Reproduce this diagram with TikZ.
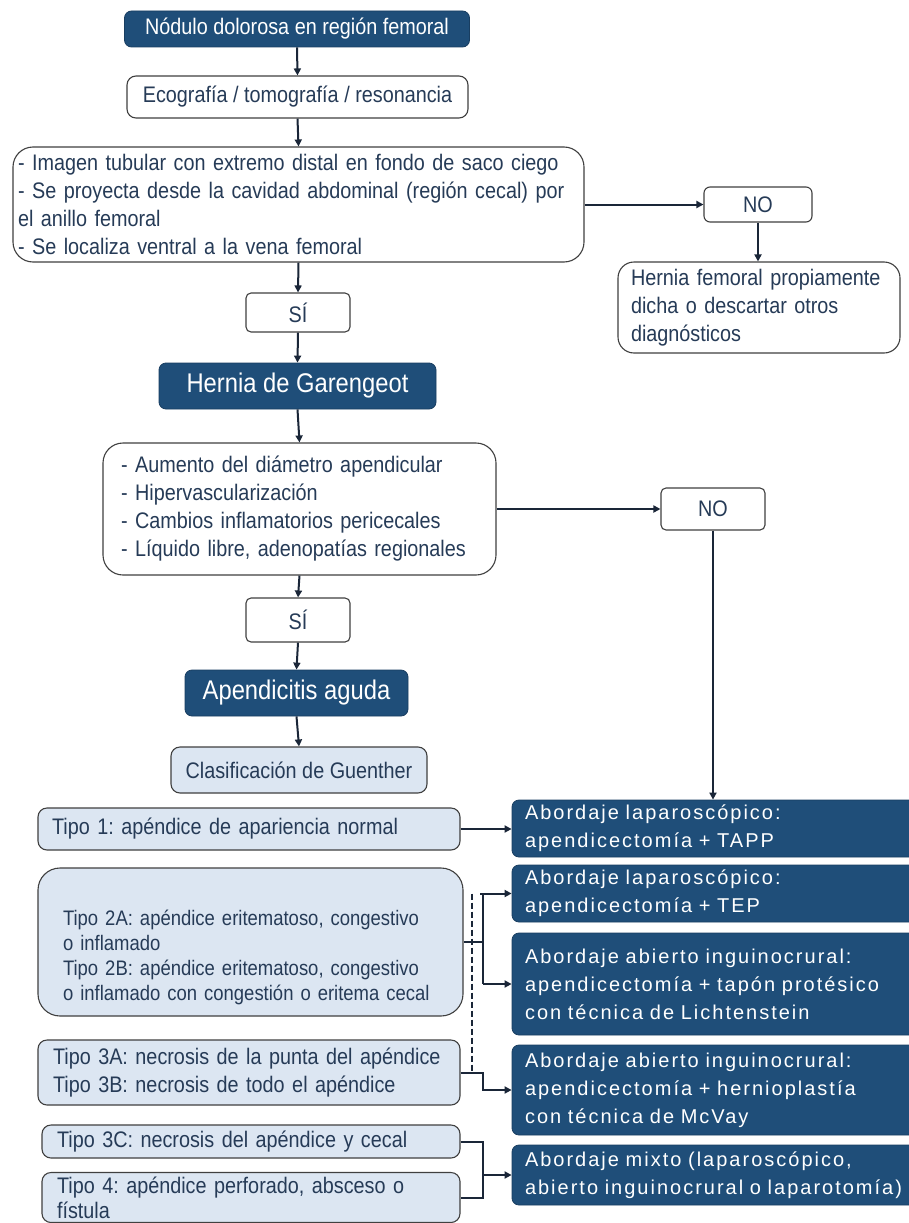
\documentclass[tikz,border=0pt]{standalone}
\usepackage{fontspec}
\setmainfont{Liberation Sans}
\newfontfamily\nfont[FakeStretch=0.88]{Liberation Sans}
\newfontfamily\wfont[LetterSpace=10]{Liberation Sans}
\usetikzlibrary{arrows.meta}
\definecolor{dkblue}{HTML}{1F4E79}
\definecolor{ltblue}{HTML}{DCE6F2}
\definecolor{bord}{HTML}{404040}
\definecolor{txt}{HTML}{263B57}
\definecolor{lnc}{HTML}{1A2638}
\frenchspacing
\begin{document}
\begin{tikzpicture}[x=1pt,y=-1pt,
 nt/.style={font=\nfont\fontsize{22.5}{28}\selectfont},
 bt/.style={font=\nfont\fontsize{27}{30}\selectfont},
 wt/.style={font=\wfont\fontsize{20}{28}\selectfont},
 box/.style={draw=bord, line width=1.1pt, inner ysep=0pt, text=txt, nt},
 wbox/.style={box, fill=white, rounded corners=9pt},
 lbox/.style={box, fill=ltblue, rounded corners=9pt},
 dbox/.style={fill=dkblue, draw=dkblue!80!black, line width=0.8pt, text=white, rounded corners=7pt, inner ysep=0pt},
 tbox/.style={dbox, wt, text width=395pt, inner xsep=13pt, align=left},
 ln/.style={draw=lnc, line width=2pt},
 arr/.style={ln, -{Triangle[length=7pt,width=7pt]}},
 dsh/.style={draw=lnc, line width=2pt, dash pattern=on 6pt off 3pt}
]
\fill[white] (0,0) rectangle (908,1223);
\useasboundingbox (0,0) rectangle (908,1223);

% top column
\node[dbox, nt, minimum width=345pt, minimum height=36pt] (nod) at (297,29) {Nódulo dolorosa en región femoral};
\node[wbox, minimum width=341pt, minimum height=42pt] (eco) at (297.5,97) {Ecografía / tomografía / resonancia};
\node[wbox, rounded corners=20pt, text width=561pt, inner xsep=5pt, align=left, minimum height=115pt] (img) at (298.5,204.5)
 {- Imagen tubular con extremo distal en fondo de saco ciego\\- Se proyecta desde la cavidad abdominal (región cecal) por\\el anillo femoral\\- Se localiza ventral a la vena femoral};
\node[wbox, rounded corners=6pt, minimum width=108pt, minimum height=35pt] (no1) at (758,204.5) {NO};
\node[wbox, rounded corners=16pt, text width=256pt, inner xsep=13pt, align=left, minimum height=91pt] (hf) at (759,307.5)
 {Hernia femoral propiamente\\dicha o descartar otros\\diagnósticos};
\node[wbox, rounded corners=5pt, minimum width=104pt, minimum height=39pt] (si1) at (298,312.5) {SÍ};
\node[dbox, bt, minimum width=277pt, minimum height=46pt] (gar) at (297.5,386) {Hernia de Garengeot};
\node[wbox, rounded corners=20pt, text width=357pt, inner xsep=18pt, align=left, minimum height=132pt] (sig) at (299.5,509)
 {- Aumento del diámetro apendicular\\- Hipervascularización\\- Cambios inflamatorios pericecales\\- Líquido libre, adenopatías regionales};
\node[wbox, rounded corners=5pt, minimum width=104pt, minimum height=42pt] (no2) at (713,509) {NO};
\node[wbox, rounded corners=5pt, minimum width=104pt, minimum height=44pt] (si2) at (298,620) {SÍ};
\node[dbox, bt, minimum width=223pt, minimum height=46pt] (apen) at (296.5,693) {Apendicitis aguda};
\node[lbox, minimum width=256pt, minimum height=46pt] (clas) at (299,770) {Clasificación de Guenther};

% Guenther types
\node[lbox, text width=394pt, inner xsep=14pt, align=left, minimum height=42pt] (t1) at (249,829) {Tipo 1: apéndice de apariencia normal};
\node[lbox, font=\nfont\fontsize{21}{25}\selectfont, rounded corners=22pt, text width=375pt, inner xsep=25pt, align=left, minimum height=148pt] (t2) at (250.5,942)
 {\mbox{}\\[22pt]Tipo 2A: apéndice eritematoso, congestivo\\o inflamado\\Tipo 2B: apéndice eritematoso, congestivo\\o inflamado con congestión o eritema cecal};
\node[lbox, text width=392pt, inner xsep=15pt, align=left, minimum height=65pt] (t3) at (249,1072.5)
 {Tipo 3A: necrosis de la punta del apéndice\\Tipo 3B: necrosis de todo el apéndice};
\node[lbox, text width=388pt, inner xsep=15pt, align=left, minimum height=33pt] (t3c) at (251,1141.5) {Tipo 3C: necrosis del apéndice y cecal};
\node[lbox, font=\nfont\fontsize{22.5}{25}\selectfont, text width=388pt, inner xsep=15pt, align=left, minimum height=50pt] (t4) at (251,1197.5)
 {Tipo 4: apéndice perforado, absceso o\\fístula};

% treatments
\node[tbox, minimum height=57pt] (tapp) at (722.5,828.5) {Abordaje laparoscópico:\\apendicectomía + TAPP};
\node[tbox, minimum height=57pt] (tep) at (722.5,893.5) {Abordaje laparoscópico:\\apendicectomía + TEP};
\node[tbox, minimum height=102pt] (lich) at (722.5,984) {Abordaje abierto inguinocrural:\\apendicectomía + tapón protésico\\con técnica de Lichtenstein};
\node[tbox, minimum height=90pt] (mcv) at (722.5,1090) {Abordaje abierto inguinocrural:\\apendicectomía + hernioplastía\\con técnica de McVay};
\node[tbox, minimum height=60pt] (mix) at (722.5,1175) {Abordaje mixto (laparoscópico,\\abierto inguinocrural o laparotomía)};

% connectors
\draw[arr] (nod.south) -- (eco.north);
\draw[arr] (eco.south) -- (img.north);
\draw[arr] (img.east) -- (no1.west);
\draw[arr] (no1.south) -- (no1.south |- hf.north);
\draw[arr] (img.south) -- (si1.north);
\draw[arr] (si1.south) -- (gar.north);
\draw[arr] (gar.south) -- (sig.north);
\draw[arr] (sig.east) -- (no2.west);
\draw[arr] (no2.south) -- (no2.south |- tapp.north);
\draw[arr] (sig.south) -- (si2.north);
\draw[arr] (si2.south) -- (apen.north);
\draw[arr] (apen.south) -- (clas.north);
\draw[arr] (t1.east) -- (t1.east -| tapp.west);

\coordinate (s2) at (483,944);
\coordinate (d1) at (472,893.5);
\draw[ln] (t2.east) -- (t2.east -| s2);
\draw[ln] (s2 |- tep.west) -- (s2 |- lich.west);
\draw[arr] (s2 |- tep.west) ++(-3,0) -- (tep.west);
\draw[arr] (s2 |- lich.west) -- (lich.west);
\draw[dsh] (d1) -- (d1 |- t3.east);
\draw[arr] (t3.east) -- (s2 |- t3.east) |- (mcv.west);
\draw[ln] (t3c.east) -| (s2 |- t4.east) -- (t4.east);
\draw[arr] (s2 |- mix.west) -- (mix.west);
\end{tikzpicture}
\end{document}
